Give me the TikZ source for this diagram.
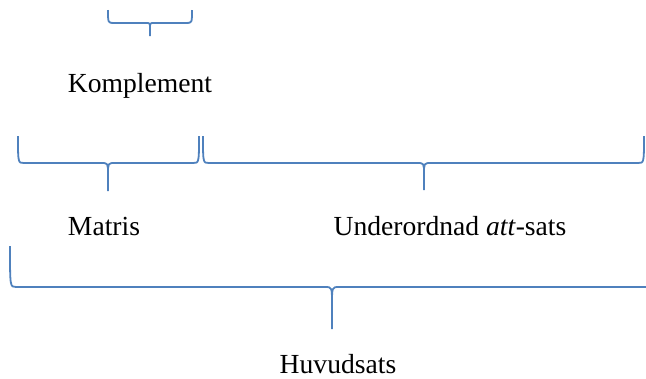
\documentclass[tikz,border=0pt]{standalone}
\usepackage{fontspec}
\setmainfont{Liberation Serif}
\usetikzlibrary{calc}

% brace as drawn in the reference: left end, right end, tip, depth of the bar
\newcommand{\Klammer}[4]{%
  \pgfmathsetmacro\kd{0.42*#4}%
  \pgfmathsetmacro\kw{min(7,0.32*#4)}%
  \path (#1) ++(0,#4) coordinate (#1-bar)
        (#2 |- #1-bar) coordinate (#2-bar)
        (#3 |- #1-bar) coordinate (#3-bar);
  \draw[klammer] (#1) .. controls (#1-bar) .. ([xshift=6pt]#1-bar)
    -- ([xshift=-\kw pt]#3-bar) .. controls (#3-bar) .. ([yshift=-\kd pt]#3-bar) -- (#3);
  \draw[klammer] (#2) .. controls (#2-bar) .. ([xshift=-6pt]#2-bar)
    -- ([xshift=\kw pt]#3-bar) .. controls (#3-bar) .. ([yshift=-\kd pt]#3-bar);
}

\begin{document}
\begin{tikzpicture}[x=1pt, y=-1pt,
    klammer/.style={draw={rgb,255:red,79;green,129;blue,189}, line width=1.8pt, line join=round},
    etikett/.style={anchor=base, inner sep=0pt, font=\fontsize{27.6}{30}\selectfont}]
    \clip (0,0) rectangle (646,378);

    \coordinate (komp-l)   at (108,10);
    \coordinate (komp-r)   at (192,10);
    \coordinate (komp-tip) at (150,36);
    \coordinate (mat-l)    at (18,136);
    \coordinate (mat-r)    at (199,136);
    \coordinate (mat-tip)  at (108,191);
    \coordinate (sub-l)    at (203,136);
    \coordinate (sub-r)    at (644,136);
    \coordinate (sub-tip)  at (424,190);
    \coordinate (hs-l)     at (10,246);
    \coordinate (hs-r)     at (653,246);
    \coordinate (hs-tip)   at (332,329);

    \node[etikett] (komp) at (140,92)  {Komplement};
    \node[etikett] (mat)  at (104,235) {Matris};
    \node[etikett] (sub)  at (450,235) {Underordnad \textit{att}-sats};
    \node[etikett] (hs)   at (338,373) {Huvudsats};

    \Klammer{komp-l}{komp-r}{komp-tip}{13}
    \Klammer{mat-l}{mat-r}{mat-tip}{27}
    \Klammer{sub-l}{sub-r}{sub-tip}{27}
    \Klammer{hs-l}{hs-r}{hs-tip}{41}
\end{tikzpicture}
\end{document}
